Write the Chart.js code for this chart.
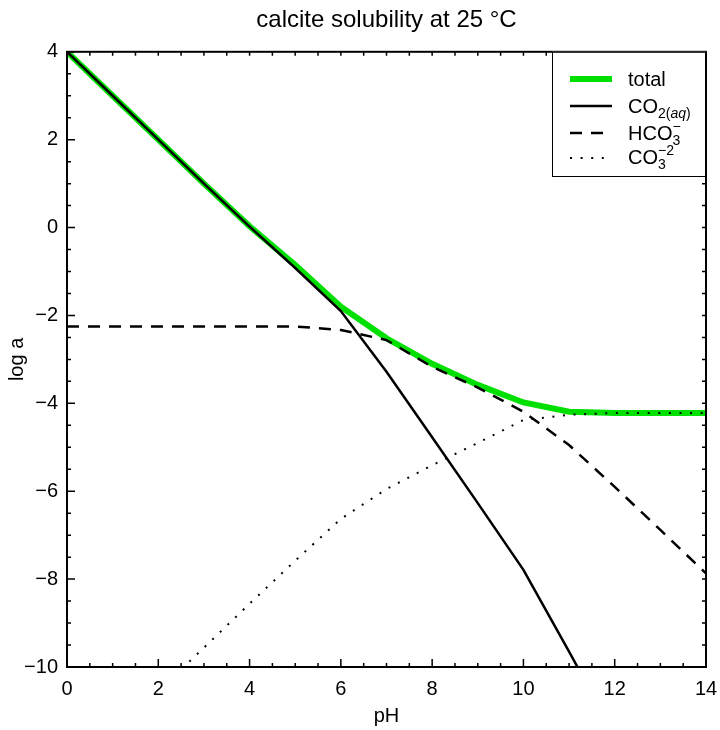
<!DOCTYPE html>
<html><head><meta charset="utf-8">
<script src="https://cdn.jsdelivr.net/npm/chart.js@4"></script>
<style>html,body{margin:0;padding:0;background:#fff}</style>
</head><body>
<canvas id="c" width="720" height="730"></canvas>
<script>
// ---- data ----
const pH       = [0, 1, 2, 3, 4, 5, 6, 7, 8, 9, 10, 11, 12, 13, 14];
const logTotal = [4, 3, 2, 1, 0.03, -0.85, -1.8, -2.52, -3.1, -3.58, -3.98, -4.19, -4.22, -4.22, -4.22];
const logCO2   = [4, 3, 2, 1, 0.02, -0.92, -1.9, -3.28, -4.77, -6.27, -7.79, -9.65, -11.55, -13.5, -15.5];
const logHCO3  = [-2.25, -2.25, -2.25, -2.25, -2.25, -2.25, -2.33, -2.56, -3.17, -3.64, -4.19, -4.95, -5.9, -6.88, -7.87];
const logCO3   = [-12.55, -11.55, -10.55, -9.56, -8.56, -7.58, -6.63, -5.95, -5.41, -4.9, -4.38, -4.26, -4.22, -4.22, -4.22];
const xTickLabels = [0, 2, 4, 6, 8, 10, 12, 14];
const yTickLabels = [-10, -8, -6, -4, -2, 0, 2, 4];
const titleText = 'calcite solubility at 25 \u00B0C';
const xTitle = 'pH';
const yTitle = 'log a';

const FONT = '"Liberation Sans", Arial, Helvetica, sans-serif';
const pts = arr => pH.map((x, i) => ({x: x, y: arr[i]}));
const fmt = v => (v < 0 ? '\u2212' + Math.abs(v) : String(v));

// frame + inward ticks on all four sides
const framePlugin = {
  id: 'frame',
  afterDatasetsDraw(chart) {
    const {ctx, chartArea: a, scales: {x, y}} = chart;
    ctx.save();
    ctx.strokeStyle = '#000';
    ctx.lineWidth = 1.5;
    ctx.beginPath();
    for (let v = 0; v <= 14.001; v += 0.5) {
      const px = x.getPixelForValue(v);
      const major = xTickLabels.includes(v);
      const L = major ? 8 : 4;
      ctx.moveTo(px, a.bottom); ctx.lineTo(px, a.bottom - L);
      ctx.moveTo(px, a.top); ctx.lineTo(px, a.top + 4);
    }
    for (let v = -10; v <= 4.001; v += 0.5) {
      const py = y.getPixelForValue(v);
      const major = yTickLabels.includes(v);
      const L = major ? 8 : 4;
      ctx.moveTo(a.left, py); ctx.lineTo(a.left + L, py);
      ctx.moveTo(a.right, py); ctx.lineTo(a.right - 4, py);
    }
    ctx.stroke();
    ctx.lineWidth = 2;
    ctx.strokeRect(a.left, a.top, a.right - a.left, a.bottom - a.top);
    ctx.restore();
  }
};

// legend with sub/superscripts
const legendPlugin = {
  id: 'chemLegend',
  afterDraw(chart) {
    const {ctx, chartArea: a} = chart;
    const L = 552, T = a.top, R = a.right, B = 177;
    ctx.save();
    ctx.fillStyle = '#fff';
    ctx.fillRect(L, T, R - L, B - T);
    ctx.strokeStyle = '#000';
    ctx.lineWidth = 1;
    ctx.strokeRect(L + 0.5, T + 0.5, R - L - 1, B - T - 1);
    const rows = [
      {y: 79, color: '#00e000', w: 6, dash: []},
      {y: 106, color: '#000', w: 2.5, dash: []},
      {y: 133, color: '#000', w: 2.5, dash: [12, 9]},
      {y: 158, color: '#000', w: 2, dash: [2, 8.6]}
    ];
    rows.forEach(r => {
      ctx.beginPath();
      ctx.setLineDash(r.dash);
      ctx.strokeStyle = r.color;
      ctx.lineWidth = r.w;
      ctx.lineCap = 'butt';
      ctx.moveTo(570, r.y); ctx.lineTo(612, r.y);
      ctx.stroke();
    });
    ctx.setLineDash([]);
    ctx.fillStyle = '#000';
    ctx.textBaseline = 'alphabetic';
    ctx.textAlign = 'left';
    const big = '20px ' + FONT, small = '14px ' + FONT, smallIt = 'italic 14px ' + FONT;
    const tx = 628;
    // total
    ctx.font = big; ctx.fillText('total', tx, 86);
    // CO2(aq)
    let bx = tx, by = 113;
    ctx.font = big; ctx.fillText('CO', bx, by); bx += ctx.measureText('CO').width;
    ctx.font = small; ctx.fillText('2(', bx, by + 5); bx += ctx.measureText('2(').width;
    ctx.font = smallIt; ctx.fillText('aq', bx, by + 5); bx += ctx.measureText('aq').width;
    ctx.font = small; ctx.fillText(')', bx, by + 5);
    // HCO3-
    bx = tx; by = 140;
    ctx.font = big; ctx.fillText('HCO', bx, by); bx += ctx.measureText('HCO').width;
    ctx.font = small; ctx.fillText('\u2212', bx, by - 9); ctx.fillText('3', bx, by + 5);
    // CO3-2
    bx = tx; by = 164;
    ctx.font = big; ctx.fillText('CO', bx, by); bx += ctx.measureText('CO').width;
    ctx.font = small; ctx.fillText('\u22122', bx, by - 9); ctx.fillText('3', bx, by + 5);
    ctx.restore();
  }
};

new Chart(document.getElementById('c'), {
  type: 'line',
  data: {
    datasets: [
      {label: 'total', data: pts(logTotal), borderColor: '#00e000', borderWidth: 6, order: 5},
      {label: 'CO2(aq)', data: pts(logCO2), borderColor: '#000', borderWidth: 2.5, order: 1},
      {label: 'HCO3-', data: pts(logHCO3), borderColor: '#000', borderWidth: 2.5, borderDash: [12, 9], order: 1},
      {label: 'CO3-2', data: pts(logCO3), borderColor: '#000', borderWidth: 2, borderDash: [2, 8.6], order: 1}
    ]
  },
  options: {
    responsive: false,
    animation: false,
    devicePixelRatio: 1,
    layout: {padding: {left: 0, right: 14, top: 0, bottom: 0}},
    elements: {point: {radius: 0}, line: {tension: 0, fill: false, borderCapStyle: 'butt'}},
    plugins: {
      legend: {display: false},
      tooltip: {enabled: false},
      title: {display: true, fullSize: false, text: titleText, color: '#000',
        font: {family: FONT, size: 24, weight: 'normal'}, padding: {top: 6, bottom: 17}}
    },
    scales: {
      x: {
        type: 'linear', min: 0, max: 14,
        afterFit(s) { s.height = 63; s.paddingLeft = 0; s.paddingRight = 0; },
        grid: {display: false, drawTicks: false},
        border: {display: false},
        ticks: {stepSize: 2, color: '#000', padding: 10, font: {family: FONT, size: 20},
          callback: v => fmt(v), maxRotation: 0, autoSkip: false},
        title: {display: true, text: xTitle, color: '#000', font: {family: FONT, size: 20}, padding: {top: 0, bottom: 2}}
      },
      y: {
        type: 'linear', min: -10, max: 4,
        afterFit(s) { s.width = 67; s.paddingTop = 0; s.paddingBottom = 0; },
        grid: {display: false, drawTicks: false},
        border: {display: false},
        ticks: {stepSize: 2, color: '#000', padding: 9, font: {family: FONT, size: 20},
          callback: v => fmt(v), autoSkip: false},
        title: {display: true, text: yTitle, color: '#000', font: {family: FONT, size: 20}, padding: {top: 5, bottom: 0}}
      }
    }
  },
  plugins: [framePlugin, legendPlugin]
});
</script>
</body></html>
